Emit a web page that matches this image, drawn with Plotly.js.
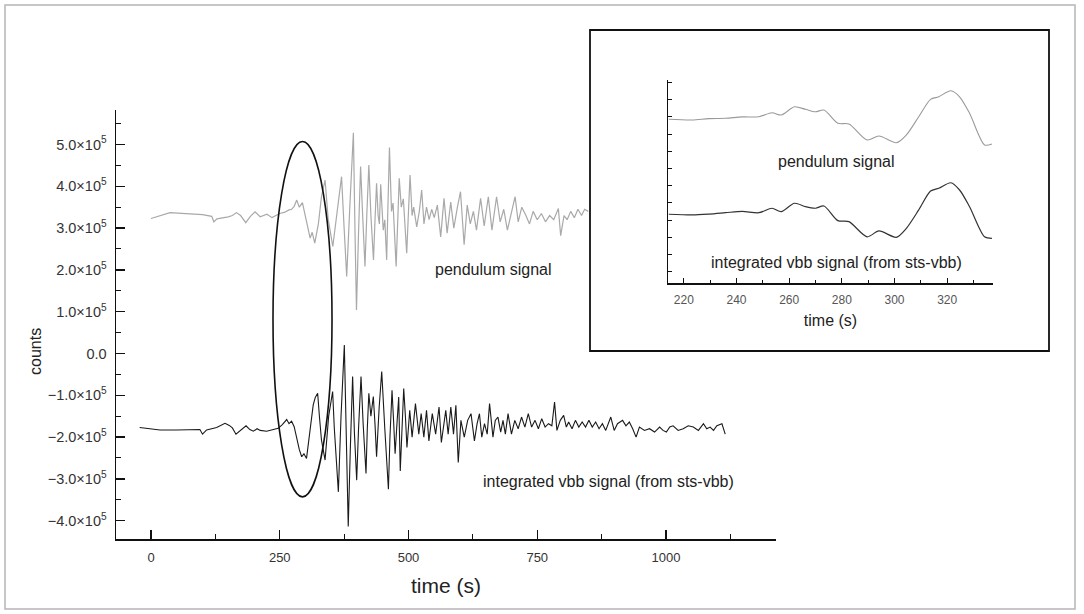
<!DOCTYPE html>
<html>
<head>
<meta charset="utf-8">
<script src="https://cdn.plot.ly/plotly-3.0.1.min.js"></script>
<style>html,body{margin:0;padding:0;background:#fff;}#chart{width:1084px;height:614px;}</style>
</head>
<body>
<div id="chart"></div>
<script>
// ---- data (counts in units of 1e5, time in s) ----
const pendulumTime = [0,20,37,60,76,100,118,122,128,140,150,158,166,174,184,193,202,212,225,235,243,250,260,267,273,278,283,288,294,299,305,309,313,318,325,331,338,344,353,362,370,375,380,386,393,396,399,403,407,411,415.5,419,423,427,432,435,438,441,443.5,446,451,454,457.6,460,463,467,470,476,479,482,486,490,496.5,500,503,507,510,516,521,525.6,530,535,540,545,550,556,562.5,569,575,582,588,595,601,608,614,620,626,632,640,647,655,662,671,678,685,692,700,707,713,720,728,735,742,750,758,766,774,782,791,795.5,802,808,815,822,829,836,842,849];
const pendulumCounts = [3.23,3.30,3.37,3.35,3.34,3.32,3.28,3.15,3.22,3.24,3.27,3.30,3.37,3.30,3.13,3.28,3.39,3.27,3.33,3.25,3.30,3.35,3.38,3.43,3.45,3.52,3.67,3.50,3.61,3.30,2.95,2.76,2.90,2.64,3.10,3.75,4.15,3.22,2.56,3.50,4.23,3.00,1.84,3.50,5.28,3.00,1.04,2.90,4.47,3.30,2.08,3.30,4.51,3.30,2.24,3.20,4.07,3.30,3.10,4.05,2.95,3.20,2.24,3.50,4.93,3.40,3.60,2.08,3.20,4.19,3.50,3.70,2.40,3.30,4.27,3.30,3.50,3.03,3.40,3.91,3.10,3.50,3.20,3.45,3.25,3.55,2.79,3.71,2.88,3.62,3.00,3.50,3.87,2.60,3.55,3.10,3.40,2.95,3.71,3.05,3.75,2.95,3.75,3.15,3.45,2.95,3.40,3.75,3.15,3.50,3.30,3.10,3.40,3.20,3.35,3.15,3.30,3.20,3.47,2.82,3.30,3.20,3.40,3.25,3.45,3.30,3.45,3.40];

const vbbTime = [-22,0,17.5,50,76,95,100,108,127.5,136,143.7,152,158,165,175,184.5,192,198.7,206,212,224.5,235,247,255,263.5,268,273,278,283,288,292.6,297,302,308,315,319,323.6,327,331,338,345,352.7,356,363.8,369,375.4,379,383,387,391.5,395,399.4,403,407.8,412,417.5,420,423,427,431.7,435,438,443,448,454,461,464,468,471,474,478,481,484,488,490.7,494,497,502.4,507,513.5,520,524.6,529.8,535,539.6,546.2,552.7,559.3,563.8,572.4,577,582.2,587.4,592,596.6,601.8,608.3,614.9,621.4,628,633.2,637.8,642.3,647.6,652.8,657.4,664,668.5,673.7,679,683.5,688.1,693.3,699.9,706.4,713,719.5,726,732.6,739.1,745.7,752.2,758.7,765.3,771.8,778.4,783.6,788.2,794.7,801.3,806.5,811,817.6,824.1,830.7,837.2,843.8,850.3,856.8,863.4,870,876.5,883,892.8,899.4,905.8,915.7,922.2,928.8,935.3,941.9,948.4,958.2,968,977.8,987.6,994.2,1000.7,1007.3,1013.8,1023.6,1033.4,1043.2,1053,1062.9,1072.7,1079.2,1085.7,1092.3,1098.8,1108.6,1115];
const vbbCounts = [-1.77,-1.80,-1.83,-1.83,-1.83,-1.82,-1.93,-1.83,-1.77,-1.72,-1.67,-1.72,-1.78,-1.93,-1.83,-1.73,-1.82,-1.86,-1.80,-1.84,-1.86,-1.82,-1.79,-1.70,-1.58,-1.68,-1.62,-1.75,-2.07,-2.30,-2.47,-2.40,-2.51,-1.90,-1.23,-1.05,-0.95,-1.50,-2.07,-2.55,-1.50,-0.91,-1.80,-3.31,-1.50,0.20,-2.00,-4.14,-2.30,-0.55,-1.90,-3.03,-1.80,-0.55,-1.70,-2.87,-1.80,-0.95,-1.50,-1.03,-1.70,-2.47,-1.30,-0.43,-1.80,-3.25,-2.00,-0.88,-1.60,-2.40,-1.60,-1.04,-2.81,-1.60,-0.84,-1.50,-2.25,-1.36,-2.00,-1.20,-1.93,-1.44,-2.00,-1.36,-2.09,-1.44,-1.93,-1.28,-2.13,-1.36,-1.93,-1.28,-1.93,-1.24,-2.61,-1.60,-2.00,-1.60,-1.44,-2.09,-1.68,-1.44,-2.00,-1.68,-1.93,-1.20,-2.00,-1.60,-1.52,-1.88,-1.60,-1.93,-1.44,-1.93,-1.60,-1.80,-1.52,-1.76,-1.44,-1.76,-1.60,-1.80,-1.56,-1.76,-1.68,-1.73,-1.16,-1.84,-1.60,-1.48,-1.76,-1.64,-1.80,-1.60,-1.76,-1.64,-1.76,-1.60,-1.76,-1.64,-1.80,-1.68,-1.84,-1.52,-1.84,-1.68,-1.60,-1.73,-1.64,-1.80,-2.00,-1.76,-1.84,-1.80,-1.88,-1.76,-1.84,-1.88,-1.76,-1.73,-1.84,-1.80,-1.73,-1.76,-1.84,-1.68,-1.80,-1.76,-1.84,-1.73,-1.68,-1.93];

// inset (arbitrary units)
const insetTime = [214.3,223.2,229.5,235.8,242.2,248.5,253.5,257,262,266.2,270,273.2,278.5,282.7,289.6,294.1,300.7,304.5,309.2,313.7,316.8,321.4,324.7,328.5,334.2,337];
const insetPendulum = [8.86,8.82,8.90,8.92,9.00,9.01,9.24,9.11,9.59,9.44,9.30,9.40,8.63,8.59,7.66,7.89,7.50,7.95,9.01,10.02,10.17,10.52,10.17,9.21,7.37,7.42];
const insetVbb = [3.34,3.30,3.35,3.43,3.51,3.43,3.69,3.49,3.98,3.78,3.69,3.82,2.97,2.91,2.03,2.37,2.00,2.52,3.59,4.69,4.85,5.17,4.75,3.78,2.03,1.94];

// ticks
const xTickValues = [0,250,500,750,1000];
const xTickLabels = ['0','250','500','750','1000'];
const yTickValues = [-4,-3,-2,-1,0,1,2,3,4,5];
const yTickLabels = ['\u22124.0\u00d710<sup>5</sup>','\u22123.0\u00d710<sup>5</sup>','\u22122.0\u00d710<sup>5</sup>','\u22121.0\u00d710<sup>5</sup>','0.0','1.0\u00d710<sup>5</sup>','2.0\u00d710<sup>5</sup>','3.0\u00d710<sup>5</sup>','4.0\u00d710<sup>5</sup>','5.0\u00d710<sup>5</sup>'];
const insetXTickValues = [220,240,260,280,300,320];
const insetXTickLabels = ['220','240','260','280','300','320'];

// highlight ellipse (data coords)
const ellipseT = [236.9, 351.5];
const ellipseC = [-3.43, 5.07];

const W = 1084, H = 614;
const px = v => v / W;
const py = v => (H - v) / H;

const FONT = 'Liberation Sans, Arial, Helvetica, sans-serif';

const traces = [
  {x: pendulumTime, y: pendulumCounts, type: 'scatter', mode: 'lines', xaxis: 'x', yaxis: 'y',
   line: {color: '#a9a9a9', width: 1.2}, hoverinfo: 'skip'},
  {x: vbbTime, y: vbbCounts, type: 'scatter', mode: 'lines', xaxis: 'x', yaxis: 'y',
   line: {color: '#1a1a1a', width: 1.1}, hoverinfo: 'skip'},
  {x: insetTime, y: insetPendulum, type: 'scatter', mode: 'lines', xaxis: 'x2', yaxis: 'y2',
   line: {color: '#9a9a9a', width: 1.1, shape: 'spline', smoothing: 0.8}, hoverinfo: 'skip'},
  {x: insetTime, y: insetVbb, type: 'scatter', mode: 'lines', xaxis: 'x2', yaxis: 'y2',
   line: {color: '#333333', width: 1.2, shape: 'spline', smoothing: 0.8}, hoverinfo: 'skip'}
];

const layout = {
  width: W, height: H,
  margin: {l: 0, r: 0, t: 0, b: 0},
  paper_bgcolor: '#ffffff', plot_bgcolor: 'rgba(0,0,0,0)',
  showlegend: false,
  font: {family: FONT, color: '#222'},
  xaxis: {
    domain: [px(116), px(776)], range: [-67.96, 1213.6], anchor: 'y',
    showline: true, linecolor: '#111', linewidth: 1.5, showgrid: false, zeroline: false,
    ticks: 'inside', ticklen: 9, tickwidth: 1.3, tickcolor: '#111',
    tickmode: 'array', tickvals: xTickValues, ticktext: xTickLabels,
    minor: {ticks: 'inside', ticklen: 5, tickwidth: 1, tickcolor: '#111', tickmode: 'array', tickvals: [125,375,625,875,1125]},
    tickfont: {family: 'Liberation Sans Narrow, Liberation Sans, Arial', size: 13, color: '#333'},
    ticklabelstandoff: 6,
    title: {text: 'time (s)', font: {family: FONT, size: 21, color: '#222'}, standoff: 14}
  },
  yaxis: {
    domain: [py(539), py(110)], range: [-4.438, 5.825], anchor: 'x',
    showline: true, linecolor: '#111', linewidth: 1.5, showgrid: false, zeroline: false,
    ticks: 'inside', ticklen: 9, tickwidth: 1.3, tickcolor: '#111',
    tickmode: 'array', tickvals: yTickValues, ticktext: yTickLabels,
    minor: {ticks: 'inside', ticklen: 5, tickwidth: 1, tickcolor: '#111', tickmode: 'array', tickvals: [-3.5,-2.5,-1.5,-0.5,0.5,1.5,2.5,3.5,4.5,5.5]},
    tickfont: {family: FONT, size: 14.5, color: '#333'},
    ticklabelstandoff: 5
  },
  xaxis2: {
    domain: [px(668), px(993)], range: [214, 337.4], anchor: 'y2',
    showline: true, linecolor: '#111', linewidth: 1.5, showgrid: false, zeroline: false,
    ticks: 'inside', ticklen: 5, tickwidth: 1, tickcolor: '#111',
    tickmode: 'array', tickvals: insetXTickValues, ticktext: insetXTickLabels,
    minor: {ticks: 'inside', ticklen: 3, tickwidth: 1, tickcolor: '#111', dtick: 10},
    tickfont: {family: FONT, size: 12, color: '#555'},
    ticklabelstandoff: 5,
    title: {text: 'time (s)', font: {family: FONT, size: 16, color: '#222'}, standoff: 8}
  },
  yaxis2: {
    domain: [py(283.3), py(80)], range: [-0.674, 11.145], anchor: 'x2',
    showline: true, linecolor: '#111', linewidth: 1.5, showgrid: false, zeroline: false,
    ticks: 'inside', ticklen: 4, tickwidth: 1, tickcolor: '#111',
    dtick: 1, tick0: 0, showticklabels: false
  },
  shapes: [
    {type: 'rect', xref: 'paper', yref: 'paper', x0: px(5), x1: px(1075), y0: py(609), y1: py(5),
     line: {color: '#b5b5b5', width: 1.5}, layer: 'below'},
    {type: 'rect', xref: 'paper', yref: 'paper', x0: px(590), x1: px(1049), y0: py(351), y1: py(30),
     line: {color: '#111', width: 1.8}, fillcolor: '#ffffff', layer: 'below'},
    {type: 'circle', xref: 'x', yref: 'y', x0: ellipseT[0], x1: ellipseT[1], y0: ellipseC[0], y1: ellipseC[1],
     line: {color: '#111', width: 1.6}, layer: 'above'}
  ],
  annotations: [
    {text: 'counts', xref: 'paper', yref: 'paper', x: px(35), y: py(352), textangle: -90,
     showarrow: false, xanchor: 'center', yanchor: 'middle', font: {family: FONT, size: 16, color: '#222'}},
    {text: 'pendulum signal', xref: 'paper', yref: 'paper', x: px(493), y: py(269),
     showarrow: false, xanchor: 'center', yanchor: 'middle', font: {family: FONT, size: 16, color: '#222'}},
    {text: 'integrated vbb signal (from sts-vbb)', xref: 'paper', yref: 'paper', x: px(608), y: py(481),
     showarrow: false, xanchor: 'center', yanchor: 'middle', font: {family: FONT, size: 16, color: '#222'}},
    {text: 'pendulum signal', xref: 'paper', yref: 'paper', x: px(836), y: py(161),
     showarrow: false, xanchor: 'center', yanchor: 'middle', font: {family: FONT, size: 16, color: '#222'}},
    {text: 'integrated vbb signal (from sts-vbb)', xref: 'paper', yref: 'paper', x: px(836), y: py(262),
     showarrow: false, xanchor: 'center', yanchor: 'middle', font: {family: FONT, size: 16, color: '#222'}}
  ]
};

Plotly.newPlot('chart', traces, layout, {staticPlot: true, displayModeBar: false});
</script>
</body>
</html>
